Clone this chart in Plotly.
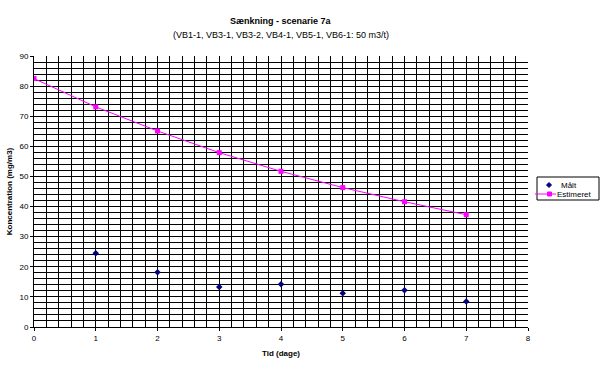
import plotly.graph_objects as go

days = [0, 1, 2, 3, 4, 5, 6, 7]
maalt_x = [1, 2, 3, 4, 5, 6, 7]
maalt_y = [24.5, 18.2, 13.3, 14.2, 11.2, 12.2, 8.5]
estimeret_y = [82.5, 73.1, 65.1, 57.9, 51.7, 46.3, 41.6, 37.3]

title_main = "Sænkning - scenarie 7a"
title_sub = "(VB1-1, VB3-1, VB3-2, VB4-1, VB5-1, VB6-1: 50 m3/t)"
legend_names = ["Målt", "Estimeret"]

font_family = "Liberation Sans, Arial, sans-serif"
MAALT_COLOR = "#000080"
EST_COLOR = "#FF00FF"

W, H = 602, 371
ML, MR, MT, MB = 34, 74, 56, 44
PW, PH = W - ML - MR, H - MT - MB


def px(x):
    return (x - ML) / PW


def py(y):
    return (H - MB - y) / PH


fig = go.Figure()
fig.add_trace(go.Scatter(
    x=maalt_x, y=maalt_y, mode="markers", name=legend_names[0],
    marker=dict(symbol="diamond", size=5, color=MAALT_COLOR),
    showlegend=False,
))
fig.add_trace(go.Scatter(
    x=days, y=estimeret_y, mode="lines+markers", name=legend_names[1],
    marker=dict(symbol="square", size=5, color=EST_COLOR),
    line=dict(color=EST_COLOR, width=1),
    showlegend=False,
))

axis_common = dict(
    showline=True, linecolor="black", linewidth=1,
    showgrid=True, gridcolor="black", gridwidth=1,
    ticks="outside", ticklen=3, tickcolor="black",
    zeroline=False, mirror=False, automargin=False,
    tickfont=dict(family=font_family, size=8, color="black"),
)

fig.update_xaxes(
    range=[0, 8], dtick=1, tick0=0,
    minor=dict(dtick=0.2, showgrid=True, gridcolor="black", gridwidth=1),
    title=dict(text="<b>Tid (dage)</b>", font=dict(family=font_family, size=8, color="black"), standoff=8),
    **axis_common,
)
fig.update_yaxes(
    range=[0, 90], dtick=10, tick0=0,
    minor=dict(dtick=2, showgrid=True, gridcolor="black", gridwidth=1),
    title=dict(text="<b>Koncentration (mg/m3)</b>", font=dict(family=font_family, size=8, color="black"), standoff=5),
    **axis_common,
)

fig.update_layout(
    width=W, height=H,
    margin=dict(l=ML, r=MR, t=MT, b=MB, autoexpand=False),
    paper_bgcolor="white", plot_bgcolor="white",
    font=dict(family=font_family, size=8, color="black"),
    showlegend=False,
)
fig.add_annotation(text="<b>" + title_main + "</b>", xref="paper", yref="paper",
                   x=0.5, y=py(14), showarrow=False,
                   font=dict(family=font_family, size=9, color="black"))
fig.add_annotation(text=title_sub, xref="paper", yref="paper",
                   x=0.5, y=py(28), showarrow=False,
                   font=dict(family=font_family, size=9, color="black"))

# Legend box (drawn to match the compact legend of the reference)
fig.add_shape(type="rect", xref="paper", yref="paper",
              x0=px(537), x1=px(599), y0=py(177), y1=py(200),
              line=dict(color="black", width=1), fillcolor="white", layer="above")
# Målt glyph (diamond)
cx, cy, r = 549, 185, 2.5
fig.add_shape(type="path", xref="paper", yref="paper",
              path=f"M {px(cx)} {py(cy - r)} L {px(cx + r)} {py(cy)} L {px(cx)} {py(cy + r)} L {px(cx - r)} {py(cy)} Z",
              line=dict(color=MAALT_COLOR, width=1), fillcolor=MAALT_COLOR, layer="above")
# Estimeret glyph (line + square)
fig.add_shape(type="line", xref="paper", yref="paper",
              x0=px(535), x1=px(556), y0=py(194), y1=py(194),
              line=dict(color=EST_COLOR, width=1), layer="above")
fig.add_shape(type="rect", xref="paper", yref="paper",
              x0=px(547.5), x1=px(551.5), y0=py(192), y1=py(196),
              line=dict(color=EST_COLOR, width=1), fillcolor=EST_COLOR, layer="above")
fig.add_annotation(text=legend_names[0], xref="paper", yref="paper",
                   x=px(559), y=py(185), xanchor="left", yanchor="middle",
                   showarrow=False, font=dict(family=font_family, size=8, color="black"))
fig.add_annotation(text=legend_names[1], xref="paper", yref="paper",
                   x=px(555), y=py(194), xanchor="left", yanchor="middle",
                   showarrow=False, font=dict(family=font_family, size=8, color="black"))

fig.write_html("out.html", post_script="document.body.style.margin='0';",
               config={"displayModeBar": False})
